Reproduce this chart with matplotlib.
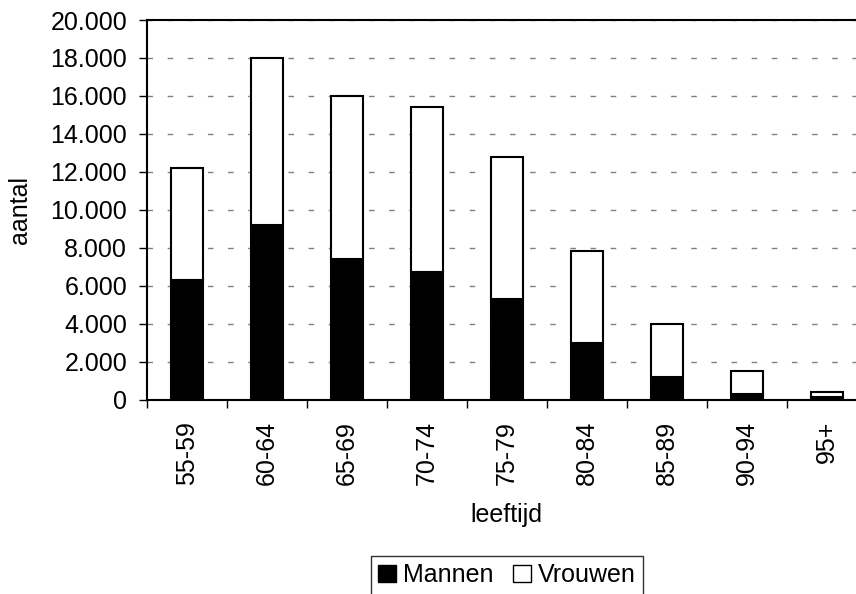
import matplotlib
matplotlib.use('Agg')
import matplotlib.pyplot as plt
import matplotlib.ticker as plticker
from matplotlib.patches import Rectangle

# leeftijdsgroepen en aantallen
groepen = ["55-59", "60-64", "65-69", "70-74", "75-79", "80-84", "85-89", "90-94", "95+"]
mannen = [6300, 9200, 7400, 6700, 5300, 3000, 1200, 300, 120]
vrouwen = [5900, 8800, 8600, 8700, 7500, 4800, 2800, 1200, 280]

plt.rcParams["font.family"] = ["Liberation Sans", "DejaVu Sans"]
plt.rcParams["font.size"] = 18

fig = plt.figure(figsize=(8.56, 5.94), dpi=100)
ax = fig.add_axes([147 / 856, 1 - 399.5 / 594, 719.7 / 856, 379.5 / 594])

x = list(range(len(groepen)))
ax.bar(x, mannen, width=0.4, color="black", edgecolor="black", linewidth=1.5, zorder=3)
ax.bar(x, vrouwen, width=0.4, bottom=mannen, color="white", edgecolor="black", linewidth=1.5, zorder=3)

ax.set_xlim(-0.5, len(groepen) - 0.5)
ax.set_ylim(0, 20000)

ax.yaxis.set_major_locator(plticker.MultipleLocator(2000))
ax.yaxis.set_major_formatter(plticker.FuncFormatter(lambda v, p: f"{int(v):,}".replace(",", ".")))
ax.grid(axis="y", color="#808080", linewidth=1.0, dashes=(4, 10.5), zorder=0)

ax.set_xticks(x)
ax.set_xticklabels(groepen, rotation=90)
ax.set_xticks([i - 0.5 for i in range(len(groepen) + 1)], minor=True)
ax.tick_params(axis="x", which="major", length=0, pad=15.5)
ax.tick_params(axis="x", which="minor", length=5.8, width=1.0, direction="out")
ax.tick_params(axis="y", length=5.8, width=1.0, pad=8.6)

for s in ax.spines.values():
    s.set_linewidth(1.5)
    s.set_color("black")

ax.set_xlabel("leeftijd")
ax.xaxis.set_label_coords(0.5, -103.5 / 379.5)
ax.xaxis.label.set_va("top")
ax.set_ylabel("aantal", va="center")
ax.yaxis.set_label_coords(-127 / 719.7, 0.5)

handles = [Rectangle((0, 0), 1, 1, facecolor="black", edgecolor="black", linewidth=1.0),
           Rectangle((0, 0), 1, 1, facecolor="white", edgecolor="black", linewidth=1.0)]
leg = fig.legend(handles, ["Mannen", "Vrouwen"], loc="upper center",
                 bbox_to_anchor=(507 / 856, 1 - 555.7 / 594), ncol=2, frameon=True,
                 fancybox=False, edgecolor="black", handlelength=0.72, handleheight=0.7,
                 handletextpad=0.28, columnspacing=0.75, borderpad=0.3, borderaxespad=0)
leg.get_frame().set_linewidth(1.0)

plt.savefig("out.png", dpi=100)
plt.close()
